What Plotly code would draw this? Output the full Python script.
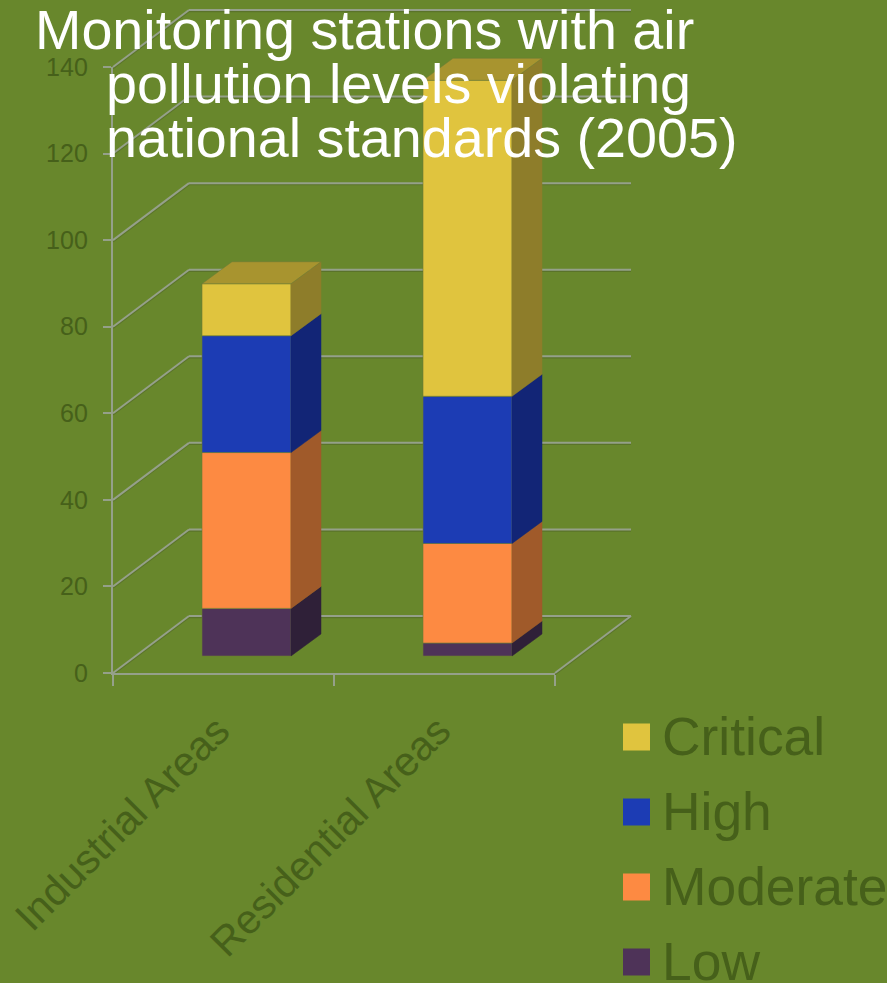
import plotly.graph_objects as go

# Chart data
categories = ["Industrial Areas", "Residential Areas"]
series_names = ["Low", "Moderate", "High", "Critical"]
low = [11, 3]
moderate = [36, 23]
high = [27, 34]
critical = [12, 73]
y_ticks = [0, 20, 40, 60, 80, 100, 120, 140]
title_lines = ["Monitoring stations with air",
               "pollution levels violating",
               "national standards (2005)"]

# Canvas and plot geometry, in pixels
W, H = 887, 983
LEFT, RIGHT, FLOOR, TOP = 113, 555, 673, 67
PX_X = (RIGHT - LEFT) / 2            # pixels per category
PX_Y = (FLOOR - TOP) / 140           # pixels per value unit

# Oblique projection offsets, converted into data units
WALL_DX, WALL_DY = 76 / PX_X, 57 / PX_Y
BAR_SHIFT_X, BAR_SHIFT_Y = 23 / PX_X, 17 / PX_Y
BAR_DX, BAR_DY = 30 / PX_X, 22 / PX_Y
BAR_WIDTH = 89 / PX_X

BG = "#68872c"
TEXT = "#46601a"
GRID = "#95a08a"
GRID_SHADE = "#5a7329"
FACES = {
    "Low": ("#4e3358", "#2f2038", "#3a2642"),
    "Moderate": ("#fd8a42", "#a05a2a", "#b06530"),
    "High": ("#1c3cb4", "#122576", "#152c88"),
    "Critical": ("#e0c43e", "#8e7d2a", "#a8942f"),
}
EDGE = "#6b7a38"
FONT = "Liberation Sans"

values = dict(zip(series_names, [low, moderate, high, critical]))
fig = go.Figure()

# Stacked blocks: front faces as bars, side and top faces as filled polygons
cumulative = [0.0, 0.0]
for name in series_names:
    front, side, top = FACES[name]
    vals = values[name]
    xs = [i + BAR_SHIFT_X for i in range(len(categories))]
    bases = [c + BAR_SHIFT_Y for c in cumulative]
    fig.add_trace(go.Bar(
        x=xs, y=vals, base=bases, width=BAR_WIDTH, name=name,
        marker=dict(color=front, line=dict(color=EDGE, width=0.6)),
        showlegend=False, hoverinfo="skip", xaxis="x", yaxis="y",
    ))
    for i, (x, b, v) in enumerate(zip(xs, bases, vals)):
        xr = x + BAR_WIDTH / 2
        fig.add_trace(go.Scatter(
            x=[xr, xr + BAR_DX, xr + BAR_DX, xr, xr],
            y=[b, b + BAR_DY, b + v + BAR_DY, b + v, b],
            mode="lines", fill="toself", fillcolor=side,
            line=dict(color=side, width=0.5),
            showlegend=False, hoverinfo="skip", xaxis="x", yaxis="y",
        ))
        if name == series_names[-1]:
            xl = x - BAR_WIDTH / 2
            t = b + v
            fig.add_trace(go.Scatter(
                x=[xl, xr, xr + BAR_DX, xl + BAR_DX, xl],
                y=[t, t, t + BAR_DY, t + BAR_DY, t],
                mode="lines", fill="toself", fillcolor=top,
                line=dict(color=EDGE, width=0.5),
                showlegend=False, hoverinfo="skip", xaxis="x", yaxis="y",
            ))
    cumulative = [c + v for c, v in zip(cumulative, vals)]

# Carries the visible category and value axes
fig.add_trace(go.Scatter(
    x=categories, y=[sum(col) for col in zip(low, moderate, high, critical)],
    mode="none", showlegend=False, hoverinfo="skip", xaxis="x2", yaxis="y2",
))

# Wall and floor grid lines behind the blocks
x_start, x_end = -0.5, 1.5
shapes = []
for offset, colour, width in ((1.2, GRID_SHADE, 2), (0, GRID, 2)):
    dy = -offset / PX_Y
    for tick in y_ticks:
        path = [(x_start, tick), (x_start + WALL_DX, tick + WALL_DY),
                (x_end + WALL_DX, tick + WALL_DY)]
        if tick == 0:
            path.append((x_end, 0))
        for (x0, y0), (x1, y1) in zip(path, path[1:]):
            shapes.append(dict(type="line", xref="x", yref="y", layer="below",
                               x0=x0, y0=y0 + dy, x1=x1, y1=y1 + dy,
                               line=dict(color=colour, width=width)))

# Legend: swatches and labels, top entry first
annotations = []
for row, name in enumerate(reversed(series_names)):
    cy = 737 + 75 * row
    shapes.append(dict(type="rect", xref="paper", yref="paper", layer="above",
                       x0=623 / W, x1=650 / W,
                       y0=1 - (cy + 13.5) / H, y1=1 - (cy - 13.5) / H,
                       fillcolor=FACES[name][0], line=dict(width=0)))
    annotations.append(dict(text=name, xref="paper", yref="paper",
                            x=660 / W, y=1 - (cy - 1) / H,
                            xanchor="left", yanchor="middle", showarrow=False,
                            font=dict(family=FONT, size=53.4, color=TEXT)))

# Title with a hanging indent
for (line, tx, ty) in zip(title_lines, (33, 104, 104), (30, 84, 138)):
    annotations.append(dict(text=line, xref="paper", yref="paper",
                            x=tx / W, y=1 - ty / H,
                            xanchor="left", yanchor="middle", showarrow=False,
                            font=dict(family=FONT, size=55.7, color="white")))

axis_line = dict(showline=True, linecolor=GRID, linewidth=2.4, ticks="outside",
                 tickcolor=GRID, tickwidth=2, showgrid=False, zeroline=False,
                 automargin=False)

fig.update_layout(
    width=W, height=H, margin=dict(l=0, r=0, t=0, b=0, pad=0), autosize=False,
    paper_bgcolor=BG, plot_bgcolor="rgba(0,0,0,0)",
    barmode="overlay", showlegend=False,
    shapes=shapes, annotations=annotations,
    xaxis=dict(domain=[0, 1], visible=False, automargin=False,
               range=[(0 - LEFT) / PX_X - 0.5, (W - LEFT) / PX_X - 0.5]),
    yaxis=dict(domain=[0, 1], visible=False, automargin=False,
               range=[(FLOOR - H) / PX_Y, FLOOR / PX_Y]),
    xaxis2=dict(domain=[LEFT / W, RIGHT / W], anchor="y2", type="category",
                categoryorder="array", categoryarray=categories,
                range=[-0.5, 1.5], tickson="boundaries", ticklen=11,
                tickangle=-45, ticklabelstandoff=15, ticklabelshift=-6,
                tickfont=dict(family=FONT, size=41, color=TEXT), **axis_line),
    yaxis2=dict(domain=[1 - FLOOR / H, 1 - TOP / H], anchor="x2",
                range=[0, 140], tickvals=y_ticks, ticklen=8,
                ticklabelstandoff=10,
                tickfont=dict(family=FONT, size=25, color=TEXT), **axis_line),
)

fig.write_html("out.html", config=dict(displayModeBar=False))
